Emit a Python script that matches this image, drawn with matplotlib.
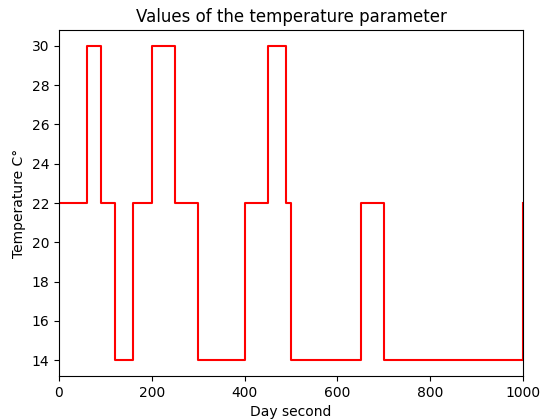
import matplotlib
matplotlib.use('Agg')
from matplotlib import pyplot as plt

# time (s) at which each temperature level starts
times = [0, 60, 90, 120, 160, 200, 250, 300, 400, 450, 490, 500, 650, 700, 1000]
temps = [22, 30, 22, 14, 22, 30, 22, 14, 22, 30, 22, 14, 22, 14, 22]

fig, ax = plt.subplots(figsize=(5.41, 4.19), dpi=100)
ax.step(times, temps, where='post', color='red')
ax.set_xlim(0, 1000)
ax.set_title("Values of the temperature parameter")
ax.set_xlabel("Day second")
ax.set_ylabel("Temperature C°")
fig.subplots_adjust(left=0.109, right=0.967, top=0.928, bottom=0.103)

fig.savefig("out.png", dpi=100)
